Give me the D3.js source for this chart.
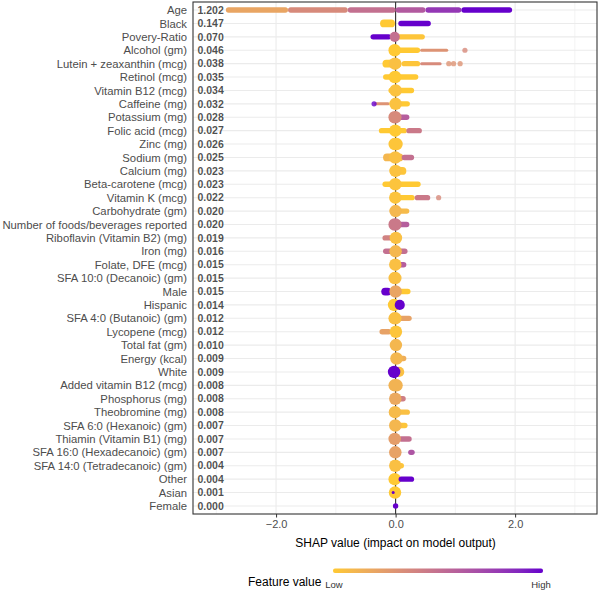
<!DOCTYPE html>
<html lang="en">
<head>
  <meta charset="UTF-8">
  <title>SHAP summary plot</title>
  <script src="https://d3js.org/d3.v7.min.js"></script>
  <style>
    body {
      margin: 0;
      background: #fff;
      font-family: "Liberation Sans", Arial, sans-serif;
    }
    .axis path { display: none; }
    .axis text { fill: #4d4d4d; }
  </style>
</head>
<body>
  <div id="chart"></div>

  <script>
    // Features, top to bottom, with the mean |SHAP| printed next to each
    const features = [
      "Age", "Black", "Povery-Ratio", "Alcohol (gm)", "Lutein + zeaxanthin (mcg)",
      "Retinol (mcg)", "Vitamin B12 (mcg)", "Caffeine (mg)", "Potassium (mg)",
      "Folic acid (mcg)", "Zinc (mg)", "Sodium (mg)", "Calcium (mg)",
      "Beta-carotene (mcg)", "Vitamin K (mcg)", "Carbohydrate (gm)",
      "Number of foods/beverages reported", "Riboflavin (Vitamin B2) (mg)",
      "Iron (mg)", "Folate, DFE (mcg)", "SFA 10:0 (Decanoic) (gm)", "Male",
      "Hispanic", "SFA 4:0 (Butanoic) (gm)", "Lycopene (mcg)", "Total fat (gm)",
      "Energy (kcal)", "White", "Added vitamin B12 (mcg)", "Phosphorus (mg)",
      "Theobromine (mg)", "SFA 6:0 (Hexanoic) (gm)", "Thiamin (Vitamin B1) (mg)",
      "SFA 16:0 (Hexadecanoic) (gm)", "SFA 14:0 (Tetradecanoic) (gm)",
      "Other", "Asian", "Female"
    ];
    const meanAbs = [
      1.202, 0.147, 0.070, 0.046, 0.038, 0.035, 0.034, 0.032, 0.028, 0.027,
      0.026, 0.025, 0.023, 0.023, 0.022, 0.020, 0.020, 0.019, 0.016, 0.015,
      0.015, 0.015, 0.014, 0.012, 0.012, 0.010, 0.009, 0.009, 0.008, 0.008,
      0.008, 0.007, 0.007, 0.007, 0.004, 0.004, 0.001, 0.000
    ];

    // Point clouds read off the picture as runs of points:
    // [feature index, SHAP from, SHAP to, scaled feature value (0 low .. 1 high), density 1..5]
    const runs = [
      [0, -2.84, -1.8, 0.2, 2], [0, -1.8, -0.8, 0.35, 2], [0, -0.8, 0.0, 0.5, 2],
      [0, 0.0, 0.5, 0.62, 2], [0, 0.5, 1.1, 0.8, 2], [0, 1.1, 1.95, 1, 2],
      [1, -0.26, -0.01, 0, 3], [1, 0.045, 0.59, 1, 2],
      [2, -0.42, -0.07, 1, 2], [2, 0.0, 0.49, 0.02, 2], [2, -0.1, 0.07, 0.5, 4],
      [3, 0.0, 0.41, 0, 2], [3, 0.41, 0.88, 0.3, 1], [3, -0.11, 0.08, 0, 5],
      [4, -0.22, 0.1, 0, 3], [4, 0.1, 0.41, 0.02, 2], [4, 0.41, 0.77, 0.35, 1], [4, -0.1, 0.08, 0.05, 5],
      [5, -0.21, 0.38, 0, 2], [5, -0.12, 0.1, 0, 5],
      [6, -0.12, 0.31, 0, 2], [6, -0.1, 0.1, 0.04, 5],
      [7, -0.36, -0.1, 0.3, 1], [7, -0.1, 0.24, 0, 2], [7, -0.1, 0.1, 0.04, 5],
      [8, -0.05, 0.23, 0.6, 2], [8, -0.12, 0.1, 0.35, 5],
      [9, -0.28, 0.19, 0, 2], [9, 0.18, 0.44, 0.45, 2], [9, -0.1, 0.09, 0, 5],
      [10, -0.12, 0.12, 0.02, 5],
      [11, -0.21, 0.13, 0.1, 3], [11, 0.1, 0.31, 0.5, 2], [11, -0.1, 0.09, 0.05, 5],
      [12, -0.1, 0.18, 0.02, 3], [12, -0.1, 0.1, 0.04, 5],
      [13, -0.22, 0.42, 0, 2], [13, -0.1, 0.09, 0.03, 5],
      [14, 0.0, 0.32, 0, 2], [14, 0.32, 0.58, 0.45, 2], [14, -0.1, 0.09, 0.03, 5],
      [15, -0.1, 0.23, 0.08, 2], [15, -0.1, 0.1, 0.1, 5],
      [16, -0.05, 0.23, 0.6, 2], [16, -0.12, 0.1, 0.45, 5],
      [17, -0.22, -0.05, 0.4, 2], [17, -0.09, 0.1, 0.05, 5],
      [18, -0.21, 0.2, 0.5, 2], [18, -0.08, 0.08, 0.1, 5],
      [19, 0.0, 0.18, 0.6, 2], [19, -0.1, 0.09, 0.05, 5],
      [20, -0.12, 0.1, 0.05, 5],
      [21, -0.24, -0.07, 1, 3], [21, 0.0, 0.25, 0, 2], [21, -0.08, 0.08, 0.2, 5],
      [22, -0.07, 0.02, 0, 5], [22, 0.02, 0.12, 1, 4],
      [23, 0.0, 0.27, 0.22, 2], [23, -0.12, 0.1, 0.05, 5],
      [24, -0.27, -0.07, 0.22, 2], [24, -0.08, 0.09, 0.02, 5],
      [25, -0.09, 0.1, 0.1, 5],
      [26, 0.0, 0.18, 0.15, 2], [26, -0.09, 0.12, 0.1, 5],
      [27, 0.02, 0.1, 0.05, 4], [27, -0.09, 0.04, 1, 5],
      [28, -0.12, 0.12, 0.12, 5],
      [29, 0.0, 0.17, 0.42, 2], [29, -0.09, 0.08, 0.18, 5],
      [30, 0.0, 0.24, 0.05, 2], [30, -0.1, 0.08, 0.08, 5],
      [31, 0.0, 0.2, 0.02, 2], [31, -0.09, 0.08, 0.1, 5],
      [32, 0.05, 0.27, 0.5, 2], [32, -0.11, 0.08, 0.24, 5],
      [33, 0.21, 0.32, 0.65, 2], [33, -0.11, 0.1, 0.22, 5],
      [34, 0.0, 0.14, 0.02, 2], [34, -0.09, 0.08, 0.05, 5],
      [35, -0.08, 0.05, 0, 5], [35, 0.05, 0.31, 1, 2],
      [36, -0.05, 0.03, 0, 5], [36, -0.05, -0.03, 1, 1],
      [37, -0.02, 0.02, 1, 2]
    ];

    // Isolated points: [feature index, SHAP value, scaled feature value]
    const singles = [
      [3, 1.16, 0.35],
      [4, 0.89, 0.3], [4, 0.97, 0.3], [4, 1.08, 0.3],
      [7, -0.36, 1],
      [14, 0.72, 0.35]
    ];

    const xTicks = [-2, 0, 2];
    const xMinor = [-3, -1, 1, 3];
    const xDomain = [-3.39, 3.37];
    const legendLabels = ["Low", "High"];

    const W = 600, H = 592;
    const margin = { top: 2, right: 3, bottom: 78, left: 193 };
    const width = W - margin.left - margin.right;
    const height = H - margin.top - margin.bottom;

    const svg = d3.select("#chart").append("svg")
      .attr("width", W)
      .attr("height", H);

    const g = svg.append("g")
      .attr("transform", `translate(${margin.left},${margin.top})`);

    const x = d3.scaleLinear().domain(xDomain).range([0, width]);
    const y = d3.scalePoint().domain(features).range([0, height]).padding(0.6);
    const color = d3.scaleLinear().domain([0, 1])
      .range(["#FFC933", "#6600CC"])
      .interpolate(d3.interpolateLab);
    const thick = d3.scaleLinear().domain([1, 5]).range([3, 12.5]);

    // grid
    g.selectAll(".gx-minor").data(xMinor).enter().append("line")
      .attr("x1", d => x(d)).attr("x2", d => x(d))
      .attr("y1", 0).attr("y2", height)
      .attr("stroke", "#ebebeb").attr("stroke-width", 0.6);
    g.selectAll(".gx").data(xTicks).enter().append("line")
      .attr("x1", d => x(d)).attr("x2", d => x(d))
      .attr("y1", 0).attr("y2", height)
      .attr("stroke", "#ebebeb").attr("stroke-width", 1.1);
    g.selectAll(".gy").data(features).enter().append("line")
      .attr("x1", 0).attr("x2", width)
      .attr("y1", d => y(d)).attr("y2", d => y(d))
      .attr("stroke", "#ebebeb").attr("stroke-width", 1.1);

    // zero line under the points
    g.append("line")
      .attr("x1", x(0)).attr("x2", x(0))
      .attr("y1", 0).attr("y2", height)
      .attr("stroke", "#333").attr("stroke-width", 1.1);

    // point runs drawn as round-capped strokes
    g.selectAll(".run").data(runs).enter().append("line")
      .attr("class", "run")
      .each(function (d) {
        const w = thick(d[4]);
        let a = x(d[1]) + w / 2, b = x(d[2]) - w / 2;
        if (b < a) { a = b = (x(d[1]) + x(d[2])) / 2; }
        const yy = y(features[d[0]]);
        d3.select(this)
          .attr("x1", a).attr("x2", b)
          .attr("y1", yy).attr("y2", yy)
          .attr("stroke-width", w);
      })
      .attr("stroke", d => color(d[3]))
      .attr("stroke-linecap", "round");

    g.selectAll(".single").data(singles).enter().append("circle")
      .attr("cx", d => x(d[1]))
      .attr("cy", d => y(features[d[0]]))
      .attr("r", 2.6)
      .attr("fill", d => color(d[2]))
      .attr("fill-opacity", 0.8);

    // mean |SHAP| labels
    g.selectAll(".mean").data(meanAbs).enter().append("text")
      .attr("x", 4.5)
      .attr("y", (d, i) => y(features[i]))
      .attr("dy", "0.35em")
      .style("font-size", "10.5px")
      .style("font-weight", "bold")
      .attr("fill", "#000").attr("fill-opacity", 0.7)
      .text(d => d.toFixed(3));

    // panel border
    g.append("rect")
      .attr("width", width).attr("height", height)
      .attr("fill", "none")
      .attr("stroke", "#333").attr("stroke-width", 1.1);

    // axes
    const xAxis = g.append("g").attr("class", "axis")
      .attr("transform", `translate(0,${height})`)
      .call(d3.axisBottom(x).tickValues(xTicks).tickSize(3.5).tickPadding(3));
    xAxis.selectAll("line").attr("stroke", "#333");
    xAxis.selectAll("text").style("font-size", "11px");

    const yAxis = g.append("g").attr("class", "axis")
      .call(d3.axisLeft(y).tickSize(0).tickPadding(6));
    yAxis.selectAll("text").style("font-size", "11.3px");

    svg.append("text")
      .attr("x", margin.left + x(0))
      .attr("y", 547)
      .attr("text-anchor", "middle")
      .style("font-size", "12px")
      .attr("fill", "#000")
      .text("SHAP value (impact on model output)");

    // colour bar legend
    const barX = 333, barW = 210, barY = 568.5, barH = 4.5;
    const grad = svg.append("defs").append("linearGradient").attr("id", "fv");
    d3.range(0, 1.01, 0.1).forEach(t => {
      grad.append("stop").attr("offset", t).attr("stop-color", color(t));
    });
    svg.append("rect")
      .attr("x", barX).attr("y", barY)
      .attr("width", barW).attr("height", barH)
      .attr("rx", 2)
      .attr("fill", "url(#fv)");
    svg.append("text")
      .attr("x", 248).attr("y", 586)
      .style("font-size", "12px").attr("fill", "#000")
      .text("Feature value");
    const legScale = d3.scaleLinear().domain([0, 1]).range([barX + 1, barX + barW - 2]);
    svg.selectAll(".leg").data(legendLabels).enter().append("text")
      .attr("x", (d, i) => legScale(i))
      .attr("y", 588)
      .attr("text-anchor", "middle")
      .style("font-size", "9.5px")
      .attr("fill", "#333")
      .text(d => d);
  </script>
</body>
</html>
